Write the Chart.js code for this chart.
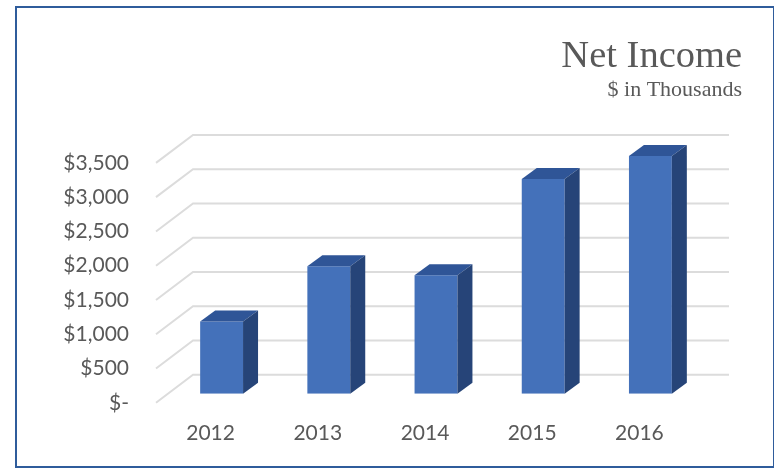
<!DOCTYPE html>
<html>
<head>
<meta charset="utf-8">
<style>
  html, body { margin: 0; padding: 0; background: #fff; }
  #wrap { position: relative; width: 774px; height: 468px; }
  #frame { position: absolute; left: 15px; top: 6px; width: 756px; height: 458px; border: 2px solid #2f5c9b; }
  canvas { position: absolute; left: 0; top: 0; }
</style>
</head>
<body>
<div id="wrap">
  <div id="frame"></div>
  <canvas id="chart" width="774" height="468"></canvas>
</div>
<script src="https://cdn.jsdelivr.net/npm/chart.js@4"></script>
<script>
const years = ['2012', '2013', '2014', '2015', '2016'];
const netIncome = [1054, 1860, 1728, 3134, 3470];
const yTickLabels = ['$-', '$500', '$1,000', '$1,500', '$2,000', '$2,500', '$3,000', '$3,500'];

// fake 3D: bars sit in the middle of the floor, walls are offset from them
const frontWall = { dx: -12, dy: 9 };
const backWall = { dx: 25, dy: -19 };
const barDepth = { dx: 15, dy: -11 };

const fakeWalls = {
    id: 'fakeWalls',
    beforeDatasetsDraw(chart) {
        const c = chart.ctx, y = chart.scales.y, area = chart.chartArea;
        c.save();
        c.strokeStyle = '#dcdcdc';
        c.lineWidth = 2;
        y.ticks.forEach(function(t) {
            const py = y.getPixelForValue(t.value);
            c.beginPath();
            c.moveTo(area.left + frontWall.dx, py + frontWall.dy);
            c.lineTo(area.left + backWall.dx, py + backWall.dy);
            c.lineTo(area.right + backWall.dx, py + backWall.dy);
            c.stroke();
        });
        c.restore();
    },
    afterDatasetsDraw(chart) {
        const c = chart.ctx;
        chart.getDatasetMeta(0).data.forEach(function(bar) {
            const l = bar.x - bar.width / 2, r = bar.x + bar.width / 2;
            c.fillStyle = '#2f5597';
            c.beginPath();
            c.moveTo(l, bar.y);
            c.lineTo(l + barDepth.dx, bar.y + barDepth.dy);
            c.lineTo(r + barDepth.dx, bar.y + barDepth.dy);
            c.lineTo(r, bar.y);
            c.closePath();
            c.fill();
            c.fillStyle = '#264478';
            c.beginPath();
            c.moveTo(r, bar.y);
            c.lineTo(r + barDepth.dx, bar.y + barDepth.dy);
            c.lineTo(r + barDepth.dx, bar.base + barDepth.dy);
            c.lineTo(r, bar.base);
            c.closePath();
            c.fill();
        });
    }
};

new Chart(document.getElementById('chart'), {
    type: 'bar',
    data: { labels: years, datasets: [{ data: netIncome, backgroundColor: '#4471ba', barPercentage: 0.4, categoryPercentage: 1 }] },
    options: {
        responsive: false,
        animation: false,
        layout: { padding: { top: 38, right: 32, bottom: 3, left: 0 } },
        plugins: {
            legend: { display: false },
            tooltip: { enabled: false },
            title: { display: true, text: 'Net Income', align: 'end', color: '#595959', font: { family: 'Liberation Serif', size: 38.5, weight: 'normal', lineHeight: 1 }, padding: { top: 0, bottom: 1 } },
            subtitle: { display: true, text: '$ in Thousands', align: 'end', color: '#595959', font: { family: 'Liberation Serif', size: 22, weight: 'normal' }, padding: { top: 0, bottom: 50 } }
        },
        scales: {
            x: {
                grid: { display: false },
                border: { display: false },
                ticks: { color: '#595959', font: { family: 'Lato', size: 21 }, padding: 19, maxRotation: 0, labelOffset: -11 }
            },
            y: {
                min: 0,
                max: 3500,
                grid: { display: false },
                border: { display: false },
                afterFit: function(s) { s.width = 168; },
                ticks: {
                    stepSize: 500,
                    color: '#595959',
                    font: { family: 'Lato', size: 21 },
                    padding: 31,
                    labelOffset: 9,
                    callback: function(v) { return yTickLabels[v / 500]; }
                }
            },
            // empty axis, only keeps the plot clear of the back wall
            spacer: {
                position: 'right',
                grid: { display: false },
                border: { display: false },
                ticks: { display: false },
                afterFit: function(s) { s.width = 38; }
            }
        }
    },
    plugins: [fakeWalls]
});
</script>
</body>
</html>
